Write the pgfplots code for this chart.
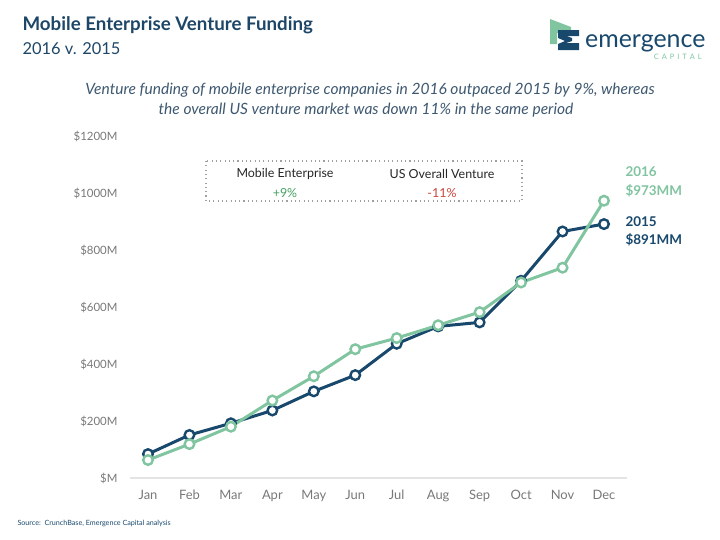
\documentclass[border=0pt]{standalone}
\usepackage{pgfplots}
\pgfplotsset{compat=1.18}
\usepackage{fontspec}
\setmainfont{Lato}
\definecolor{navy}{RGB}{24,72,108}
\definecolor{mint}{RGB}{128,196,160}
\definecolor{titleblue}{RGB}{30,70,102}
\definecolor{subblue}{RGB}{62,88,112}
\definecolor{tickgray}{RGB}{120,120,120}
\definecolor{zeroline}{RGB}{228,228,228}
\definecolor{boxgray}{RGB}{160,160,160}
\definecolor{posgreen}{RGB}{70,160,100}
\definecolor{negred}{RGB}{200,70,60}
\pgfplotstableread{
m v2015 v2016
0 84 63
1 151 119
2 192 180
3 237 272
4 304 357
5 361 452
6 471 491
7 532 536
8 546 582
9 692 686
10 865 738
11 891 973
}\funding
\begin{document}
\begin{tikzpicture}
\path[use as bounding box] (0,0) rectangle (720bp,-540bp);
\begin{axis}[
  at={(130bp,-478bp)}, anchor=south west,
  scale only axis, width=497bp, height=342bp,
  xmin=-0.434, xmax=11.555, ymin=0, ymax=1200,
  axis x line*=bottom, axis y line*=left,
  x axis line style={draw=zeroline, line width=1.6bp, -},
  y axis line style={draw=none},
  xtick={0,...,11},
  xticklabels={Jan,Feb,Mar,Apr,May,Jun,Jul,Aug,Sep,Oct,Nov,Dec},
  ytick={0,200,400,600,800,1000,1200},
  yticklabels={\$M,\$200M,\$400M,\$600M,\$800M,\$1000M,\$1200M},
  major tick length=0,
  xticklabel style={anchor=base, yshift=-21.5bp, font=\fontsize{13}{15}\selectfont, text=tickgray},
  yticklabel style={xshift=-9bp, font=\fontsize{11.5}{13}\selectfont, text=tickgray},
  clip=false,
]
\addplot[navy, line width=3bp, mark=*, mark size=4.8bp,
  mark options={fill=white, draw=navy, line width=2.4bp}] table[x=m, y=v2015] {\funding};
\addplot[mint, line width=3bp, mark=*, mark size=4.8bp,
  mark options={fill=white, draw=mint, line width=2.4bp}] table[x=m, y=v2016] {\funding};
\end{axis}
\begin{scope}[x=1bp, y=-1bp]
% titles
\node[anchor=west, text=titleblue, font=\fontsize{18.8}{22}\selectfont\bfseries] at (19,25) {Mobile Enterprise Venture Funding};
\node[anchor=west, text=titleblue, font=\fontsize{16.5}{20}\selectfont] at (19,49) {2016 v. 2015};
% subtitle
\node[text=subblue, font=\fontsize{15.6}{18}\selectfont\itshape] at (370,90) {Venture funding of mobile enterprise companies in 2016 outpaced 2015 by 9\%, whereas};
\node[text=subblue, font=\fontsize{15.6}{18}\selectfont\itshape] at (366,110) {the overall US venture market was down 11\% in the same period};
% logo
\fill[mint] (550,19) -- (571,27) -- (571,33) -- (557,33) -- (557,44) -- (550,44) -- cycle;
\fill[navy] (558,30) -- (579,30) -- (579,36) -- (566,36) -- (572,38) -- (572,41) -- (566,43) -- (579,43) -- (579,50) -- (558,50) -- (558,44) -- (565,41) -- (558,38) -- cycle;
\node[anchor=base west, text=navy, font=\fontsize{25}{28}\selectfont, inner sep=0] at (585,47) {emergence};
\node[anchor=base east, text=mint, font=\fontsize{7.5}{9}\selectfont, inner sep=0] at (702,59) {C\hspace{3bp}A\hspace{3bp}P\hspace{3bp}I\hspace{3bp}T\hspace{3bp}A\hspace{3bp}L};
% dotted box
\draw[boxgray, line width=1.1bp, dash pattern=on 1.1bp off 3.2bp] (206,161) rectangle (522,201);
\node[text=black!85, font=\fontsize{12.5}{15}\selectfont] at (285,174) {Mobile Enterprise};
\node[text=posgreen, font=\fontsize{12.5}{15}\selectfont] at (285,193) {+9\%};
\node[text=black!85, font=\fontsize{12.5}{15}\selectfont] at (442,174) {US Overall Venture};
\node[text=negred, font=\fontsize{12.5}{15}\selectfont] at (442,193) {-11\%};
% end labels
\node[anchor=west, text=mint, font=\fontsize{13.5}{16}\selectfont\bfseries] at (622,172) {2016};
\node[anchor=west, text=mint, font=\fontsize{13.5}{16}\selectfont\bfseries] at (622,191) {\$973MM};
\node[anchor=west, text=navy, font=\fontsize{13.5}{16}\selectfont\bfseries] at (622,222) {2015};
\node[anchor=west, text=navy, font=\fontsize{13.5}{16}\selectfont\bfseries] at (622,240) {\$891MM};
% source
\node[anchor=west, text=navy, font=\fontsize{7.2}{8}\selectfont] at (14,524) {Source:\ \ CrunchBase, Emergence Capital analysis};
\end{scope}
\end{tikzpicture}
\end{document}
